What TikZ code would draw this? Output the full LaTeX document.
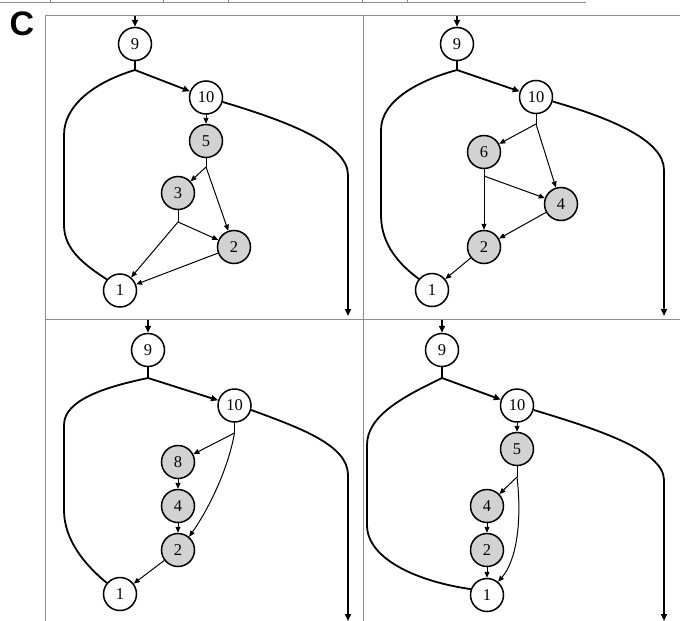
\documentclass[tikz,border=0pt]{standalone}
\usepackage{fontspec}
\setmainfont{Liberation Serif}
\newfontfamily\labelfont{Liberation Sans}
\usetikzlibrary{arrows.meta}
\begin{document}
\begin{tikzpicture}[x=1pt,y=-1pt,
  nd/.style={circle,draw,line width=1.5pt,minimum size=33pt,inner sep=0pt,font=\fontsize{16.5}{16.5}\selectfont,fill=white},
  gn/.style={nd,fill=gray!35},
  thn/.style={line width=1pt},
  thna/.style={thn,-{Triangle[length=6pt,width=5pt]}},
  thk/.style={line width=1.8pt},
  thka/.style={thk,-{Triangle[length=7pt,width=6pt]}},
  frame/.style={draw=black!45,line width=0.8pt}]
\useasboundingbox (0,0) rectangle (680,621);
% frames
\draw[frame] (0,2.5) -- (586,2.5);
\foreach \xx in {50,163,228,362,407} \draw[frame] (\xx,0) -- (\xx,2.5);
\draw[frame] (45.5,621) -- (45.5,15) -- (680,15);
\draw[frame] (363,15) -- (363,621);
\draw[frame] (45.5,319) -- (680,319);
\node[font=\labelfont\bfseries\fontsize{34}{34}\selectfont,inner sep=0pt] (lab) at (22,23.5) {C};

% ---------- panel 1
\node[nd] (a9) at (135,44) {9};
\node[nd] (a10) at (206,97.5) {10};
\node[gn] (a5) at (206,141) {5};
\node[gn] (a3) at (178,193) {3};
\node[gn] (a2) at (234,247) {2};
\node[nd] (a1) at (120,290.5) {1};
\coordinate (a0) at (135,16);
\coordinate (aj) at (135,70);
\coordinate (aj5) at (206,167);
\coordinate (aj3) at (178,222);
\coordinate (ae) at (348,316);
\draw[thka] (a0) -- (a9);
\draw[thk] (a9) -- (aj);
\draw[thka] (aj) -- (a10);
\draw[thk] (aj) .. controls (95,82) and (64,105) .. (64,135) -- (64,225) .. controls (64,250) and (85,265) .. (a1.140);
\draw[thka] (a10.-15) .. controls (290,122) and (348,145) .. (348,175) -- (ae);
\draw[thna] (a10) -- (a5);
\draw[thn] (a5) -- (aj5);
\draw[thna] (aj5) -- (a3);
\draw[thna] (aj5) -- (a2);
\draw[thn] (a3) -- (aj3);
\draw[thna] (aj3) -- (a2);
\draw[thna] (aj3) -- (a1);
\draw[thna] (a2) -- (a1);

% ---------- panel 2
\node[nd] (b9) at (457,44) {9};
\node[nd] (b10) at (536,97) {10};
\node[gn] (b6) at (484,152) {6};
\node[gn] (b4) at (561,204) {4};
\node[gn] (b2) at (484,247) {2};
\node[nd] (b1) at (432,290) {1};
\coordinate (b0) at (457,16);
\coordinate (bj) at (457,70);
\coordinate (bj10) at (536,124);
\coordinate (bj6) at (484,176);
\coordinate (be) at (664,316);
\draw[thka] (b0) -- (b9);
\draw[thk] (b9) -- (bj);
\draw[thka] (bj) -- (b10);
\draw[thk] (bj) .. controls (420,80) and (381,100) .. (381,130) -- (381,215) .. controls (381,245) and (400,265) .. (b1.140);
\draw[thka] (b10.-15) .. controls (610,118) and (664,140) .. (664,170) -- (be);
\draw[thn] (b10) -- (bj10);
\draw[thna] (bj10) -- (b6);
\draw[thna] (bj10) -- (b4);
\draw[thn] (b6) -- (bj6);
\draw[thna] (bj6) -- (b2);
\draw[thna] (bj6) -- (b4);
\draw[thna] (b4) -- (b2);
\draw[thna] (b2) -- (b1);

% ---------- panel 3
\node[nd] (c9) at (148,350) {9};
\node[nd] (c10) at (234.5,405.5) {10};
\node[gn] (c8) at (178,462) {8};
\node[gn] (c4) at (178,506) {4};
\node[gn] (c2) at (178,550) {2};
\node[nd] (c1) at (120,594) {1};
\coordinate (c0) at (148,320);
\coordinate (cj) at (148,378);
\coordinate (cj10) at (234.5,433);
\coordinate (ce) at (348,621);
\draw[thka] (c0) -- (c9);
\draw[thk] (c9) -- (cj);
\draw[thka] (cj) -- (c10);
\draw[thk] (cj) .. controls (105,387) and (64,400) .. (64,425) -- (64,510) .. controls (64,540) and (85,565) .. (c1.140);
\draw[thka] (c10.-15) .. controls (300,428) and (348,445) .. (348,475) -- (ce);
\draw[thn] (c10) -- (cj10);
\draw[thna] (cj10) -- (c8);
\draw[thna] (cj10) .. controls (228,470) and (208,510) .. (c2.50);
\draw[thna] (c8) -- (c4);
\draw[thna] (c4) -- (c2);
\draw[thna] (c2) -- (c1);

% ---------- panel 4
\node[nd] (d9) at (442,350) {9};
\node[nd] (d10) at (517,405.5) {10};
\node[gn] (d5) at (517,449) {5};
\node[gn] (d4) at (487,506) {4};
\node[gn] (d2) at (487,550) {2};
\node[nd] (d1) at (487,595) {1};
\coordinate (d0) at (442,320);
\coordinate (dj) at (442,378);
\coordinate (dj5) at (517,477);
\coordinate (de) at (664,621);
\draw[thka] (d0) -- (d9);
\draw[thk] (d9) -- (dj);
\draw[thka] (dj) -- (d10);
\draw[thk] (dj) .. controls (405,396) and (367,415) .. (367,445) -- (367,525) .. controls (367,560) and (420,582) .. (d1.160);
\draw[thka] (d10.-15) .. controls (593,428) and (664,450) .. (664,480) -- (de);
\draw[thna] (d10) -- (d5);
\draw[thn] (d5) -- (dj5);
\draw[thna] (dj5) -- (d4);
\draw[thna] (dj5) .. controls (522,520) and (517,560) .. (d1.50);
\draw[thna] (d4) -- (d2);
\draw[thna] (d2) -- (d1);
\end{tikzpicture}
\end{document}
